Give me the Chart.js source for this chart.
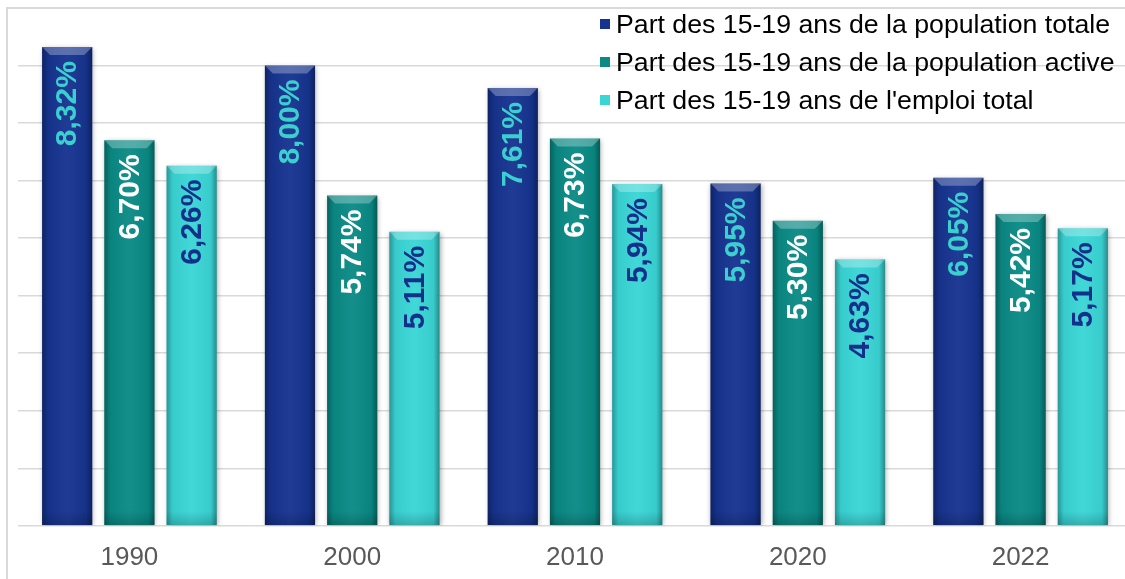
<!DOCTYPE html>
<html>
<head>
<meta charset="utf-8">
<script src="https://cdn.jsdelivr.net/npm/chart.js@4.4.0/dist/chart.umd.min.js"></script>
<style>
  body { margin: 0; overflow: hidden; background: #fff; font-family: "Liberation Sans", Arial, sans-serif; }
  #wrap { position: relative; width: 1125px; height: 579px; overflow: hidden; }
  #legend { position: absolute; left: 600px; top: 5px; font-size: 26.7px; color: #000; }
  .item { height: 38px; line-height: 38px; white-space: nowrap; }
  .box { display: inline-block; width: 10px; height: 10px; margin-right: 6px; vertical-align: middle; position: relative; top: -2px; }
</style>
</head>
<body>
<div id="wrap">
  <canvas id="chart" width="1150" height="589"></canvas>
  <div id="legend"></div>
</div>
<script>
const categories = ["1990", "2000", "2010", "2020", "2022"];
const popTotale = [8.32, 8.00, 7.61, 5.95, 6.05];
const popActive = [6.70, 5.74, 6.73, 5.30, 5.42];
const emploiTotal = [6.26, 5.11, 5.94, 4.63, 5.17];
const seriesNames = [
  "Part des 15-19 ans de la population totale",
  "Part des 15-19 ans de la population active",
  "Part des 15-19 ans de l'emploi total"
];
const barColors = ["#16338f", "#0a8a85", "#3ad6d6"];
const labelColors = ["#3ccfcf", "#ffffff", "#14308a"];

Chart.defaults.font.family = "'Liberation Sans', Arial, sans-serif";

// legend as plain html, top right
const legendEl = document.getElementById("legend");
seriesNames.forEach((name, i) => {
  const row = document.createElement("div");
  row.className = "item";
  row.innerHTML = '<span class="box" style="background:' + barColors[i] + '"></span>' + name;
  legendEl.appendChild(row);
});

const fmt = v => v.toFixed(2).replace(".", ",") + "%";

const frame = {
  id: "frame",
  beforeDraw(chart) {
    const ctx = chart.ctx;
    ctx.save();
    ctx.strokeStyle = "#d9d9d9";
    ctx.lineWidth = 2;
    ctx.beginPath();
    ctx.moveTo(7, chart.height);
    ctx.lineTo(7, 8);
    ctx.lineTo(chart.width, 8);
    ctx.stroke();
    ctx.restore();
  }
};

const barLook = {
  id: "barLook",
  beforeDatasetsDraw(chart) {
    const ctx = chart.ctx;
    ctx.save();
    ctx.shadowColor = "rgba(0,0,0,0.35)";
    ctx.shadowBlur = 5;
    ctx.shadowOffsetX = 1;
    ctx.shadowOffsetY = 1;
  },
  afterDatasetsDraw(chart) {
    const ctx = chart.ctx;
    ctx.restore();
    chart.data.datasets.forEach((ds, di) => {
      chart.getDatasetMeta(di).data.forEach((bar, i) => {
        const { x, y, base, width } = bar.getProps(["x", "y", "base", "width"], true);
        const left = x - width / 2;
        // side shading
        const g = ctx.createLinearGradient(left, 0, left + width, 0);
        g.addColorStop(0, "rgba(0,0,0,0.3)");
        g.addColorStop(0.12, "rgba(0,0,0,0.05)");
        g.addColorStop(0.5, "rgba(255,255,255,0.04)");
        g.addColorStop(0.88, "rgba(0,0,0,0.05)");
        g.addColorStop(1, "rgba(0,0,0,0.35)");
        ctx.fillStyle = g;
        ctx.fillRect(left, y, width, base - y);
        // bottom darkening
        const gb = ctx.createLinearGradient(0, base - 14, 0, base);
        gb.addColorStop(0, "rgba(0,0,0,0)");
        gb.addColorStop(1, "rgba(0,0,0,0.18)");
        ctx.fillStyle = gb;
        ctx.fillRect(left, base - 14, width, 14);
        // top bevel
        ctx.fillStyle = "rgba(255,255,255,0.28)";
        ctx.beginPath();
        ctx.moveTo(left, y);
        ctx.lineTo(left + width, y);
        ctx.lineTo(left + width - 8, y + 8);
        ctx.lineTo(left + 8, y + 8);
        ctx.closePath();
        ctx.fill();
        // value label, rotated
        ctx.save();
        ctx.translate(x + 1, y + 14);
        ctx.rotate(-Math.PI / 2);
        ctx.font = "bold 30px 'Liberation Sans', Arial, sans-serif";
        ctx.fillStyle = labelColors[di];
        ctx.textAlign = "right";
        ctx.textBaseline = "middle";
        ctx.fillText(fmt(ds.data[i]), 0, 0);
        ctx.restore();
      });
    });
  }
};

new Chart(document.getElementById("chart"), {
  type: "bar",
  data: {
    labels: categories,
    datasets: [
      { label: seriesNames[0], data: popTotale, backgroundColor: barColors[0] },
      { label: seriesNames[1], data: popActive, backgroundColor: barColors[1] },
      { label: seriesNames[2], data: emploiTotal, backgroundColor: barColors[2] }
    ]
  },
  options: {
    responsive: false,
    animation: false,
    layout: { padding: { left: 18, right: 18, top: 8, bottom: 8 } },
    datasets: { bar: { categoryPercentage: 0.838, barPercentage: 0.806 } },
    plugins: {
      legend: { display: false },
      tooltip: { enabled: false }
    },
    scales: {
      x: {
        grid: { display: false },
        border: { display: false },
        ticks: { color: "#595959", font: { size: 26 }, padding: 8 }
      },
      y: {
        min: 0,
        max: 9,
        ticks: { display: false, stepSize: 1 },
        grid: { color: "#d9d9d9", lineWidth: 1.5, drawTicks: false },
        border: { display: false }
      }
    }
  },
  plugins: [frame, barLook]
});
</script>
</body>
</html>
